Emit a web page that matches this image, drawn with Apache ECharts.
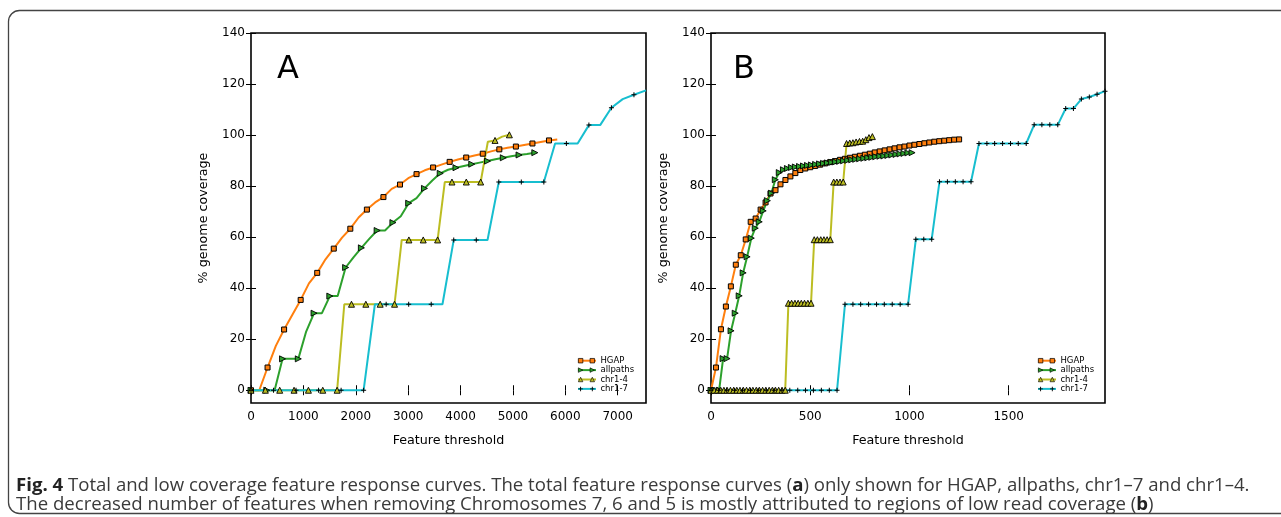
<!DOCTYPE html>
<html><head><meta charset="utf-8">
<script src="https://cdn.jsdelivr.net/npm/echarts@6/dist/echarts.min.js"></script>
<style>html,body{margin:0;padding:0;background:#fff;}#c{width:1281px;height:517px;}</style>
</head><body><div id="c"></div>
<script>
// ---------- data ----------
const seriesNames = ['HGAP', 'allpaths', 'chr1-4', 'chr1-7'];
const yTicks = [0, 20, 40, 60, 80, 100, 120, 140];
const xTicksA = [0, 1000, 2000, 3000, 4000, 5000, 6000, 7000];
const xTicksB = [0, 500, 1000, 1500];

// Panel A
const hgapA_x = [0,158,316,474,632,790,948,1106,1264,1422,1580,1738,1896,2054,2212,2370,2528,2686,2844,3002,3160,3318,3476,3634,3792,3950,4108,4266,4424,4582,4740,4898,5056,5214,5372,5530,5688,5846];
const hgapA_y = [0,0,8.9,17.4,23.8,29.6,35.4,41.9,46.0,51.3,55.5,59.8,63.3,67.7,70.8,73.6,75.7,78.9,80.6,83.1,84.7,86.2,87.3,88.4,89.5,90.4,91.2,92.0,92.7,93.6,94.4,95.0,95.5,96.1,96.7,97.3,97.9,98.3];
const allpathsA_x = [0,150,301,451,602,752,903,1053,1204,1354,1505,1655,1806,1956,2107,2257,2408,2558,2709,2859,3010,3160,3311,3461,3612,3762,3913,4063,4214,4364,4515,4665,4816,4966,5117,5267,5418];
const allpathsA_y = [0,0,0,0,12.3,12.3,12.3,23.0,30.2,30.2,36.9,36.9,48.1,52.1,55.8,59.3,62.6,62.6,65.7,68.2,73.3,75.3,79.1,82.2,85.0,86.4,87.2,87.9,88.6,89.2,89.8,90.5,91.1,91.7,92.2,92.6,93.1];
const chr14A_x = [0,137,274,411,548,685,822,959,1096,1233,1370,1507,1644,1781,1918,2055,2192,2329,2466,2603,2740,2877,3014,3151,3288,3425,3562,3699,3836,3973,4110,4247,4384,4521,4658,4795,4932];
const chr14A_y = [0,0,0,0,0,0,0,0,0,0,0,0,0,33.7,33.7,33.7,33.7,33.7,33.7,33.7,33.7,58.9,58.9,58.9,58.9,58.9,58.9,81.6,81.6,81.6,81.6,81.6,81.6,97.4,97.9,99.4,100.1];
const chr17A_x = [0,215,430,645,860,1075,1290,1505,1720,1935,2150,2365,2580,2795,3010,3225,3440,3655,3870,4085,4300,4515,4730,4945,5160,5375,5590,5805,6020,6235,6450,6665,6880,7095,7310,7540];
const chr17A_y = [0,0,0,0,0,0,0,0,0,0,0,33.7,33.7,33.7,33.7,33.7,33.7,33.7,58.9,58.9,58.9,58.9,81.6,81.6,81.6,81.6,81.6,96.7,96.7,96.7,103.9,103.9,110.7,114.1,115.8,117.5];

// Panel B
const hgapB_x = [0,25,50,75,100,125,150,175,200,225,250,275,300,325,350,375,400,425,450,475,500,525,550,575,600,625,650,675,700,725,750,775,800,825,850,875,900,925,950,975,1000,1025,1050,1075,1100,1125,1150,1175,1200,1225,1250];
const hgapB_y = [0,8.9,23.9,32.8,40.7,49.2,52.9,59.1,66.0,67.3,70.8,73.6,77.1,78.4,80.7,82.4,83.8,85.1,86.3,86.9,87.4,87.9,88.4,88.9,89.4,89.8,90.3,90.7,91.1,91.5,91.9,92.3,92.7,93.2,93.6,94.0,94.4,94.8,95.2,95.5,95.9,96.2,96.5,96.8,97.1,97.4,97.6,97.8,98.0,98.2,98.3];
const allpathsB_x = [0,20,41,61,81,101,122,142,162,182,203,223,243,263,284,304,324,344,365,385,405,425,446,466,486,506,527,547,567,587,608,628,648,668,689,709,729,749,770,790,810,830,851,871,891,911,932,952,972,992,1013];
const allpathsB_y = [0,0,0,12.4,12.4,23.3,30.2,37.0,46.0,52.3,59.6,63.5,66.0,70.3,74.3,77.2,82.5,85.3,86.4,86.9,87.3,87.5,87.7,87.9,88.1,88.3,88.5,88.7,88.9,89.1,89.3,89.5,89.7,89.9,90.1,90.3,90.5,90.7,90.9,91.1,91.3,91.5,91.7,91.8,92.0,92.2,92.4,92.6,92.8,93.0,93.1];
const chr14B_x = [0,16,33,49,65,81,98,114,130,146,163,179,195,211,228,244,260,276,293,309,325,341,358,374,390,406,423,439,455,471,488,504,520,536,553,569,585,601,618,634,650,666,683,699,715,731,748,764,780,796,813];
const chr14B_y = [0,0,0,0,0,0,0,0,0,0,0,0,0,0,0,0,0,0,0,0,0,0,0,0,34.1,34.1,34.1,34.1,34.1,34.1,34.1,34.1,59.0,59.0,59.0,59.0,59.0,59.0,81.6,81.6,81.6,81.6,96.7,96.9,97.0,97.3,97.5,97.6,98.2,99.0,99.4];
const chr17B_x = [0,40,79,119,159,199,238,278,318,357,397,437,476,516,556,596,635,675,715,754,794,834,873,913,953,993,1032,1072,1112,1151,1191,1231,1270,1310,1350,1390,1429,1469,1509,1548,1588,1628,1667,1707,1747,1787,1826,1866,1906,1945,1985];
const chr17B_y = [0,0,0,0,0,0,0,0,0,0,0,0,0,0,0,0,0,33.7,33.7,33.7,33.7,33.7,33.7,33.7,33.7,33.7,59.2,59.2,59.2,81.7,81.7,81.7,81.7,81.7,96.7,96.7,96.7,96.7,96.7,96.7,96.7,104.0,104.0,104.0,104.0,110.4,110.4,114.1,114.9,116.0,117.2];

const captionLine1 = ['Fig. 4', ' Total and low coverage feature response curves. The total feature response curves (', 'a', ') only shown for HGAP, allpaths, chr1\u20137 and chr1\u20134.'];
const captionLine2 = ['The decreased number of features when removing Chromosomes 7, 6 and 5 is mostly attributed to regions of low read coverage (', 'b', ')'];

// ---------- styles ----------
const colors = {'HGAP':'#ff7f0e','allpaths':'#2ca02c','chr1-4':'#bcbd22','chr1-7':'#17becf'};
const PLUS = 'path://M4,0h2v4h4v2h-4v4h-2v-4h-4v-2h4z';
const markers = {
  'HGAP': {symbol:'rect', size:5, rotate:0, fill:'#ff7f0e', bw:1},
  'allpaths': {symbol:'triangle', size:6, rotate:-90, fill:'#2ca02c', bw:0.9},
  'chr1-4': {symbol:'triangle', size:6, rotate:0, fill:'#bcbd22', bw:0.9},
  'chr1-7': {symbol:PLUS, size:5, rotate:0, fill:'#000', bw:0}
};
const legendIcons = {
  'HGAP': 'path://M0,0h5v5h-5z M13,0h5v5h-5z',
  'allpaths': 'path://M0,0L5,2.5L0,5z M13,0L18,2.5L13,5z',
  'chr1-4': 'path://M0,5L2.5,0L5,5z M13,5L15.5,0L18,5z',
  'chr1-7': 'path://M2,0h1v2h2v1h-2v2h-1v-2h-2v-1h2z M15,0h1v2h2v1h-2v2h-1v-2h-2v-1h2z'
};
const FONT = 'DejaVu Sans';
const CAP_FONT = 'Open Sans';
const CAP_SIZE = 18.6;

function pairs(xs, ys) { return xs.map((x, i) => [x, ys[i]]); }

function mkSeries(name, xs, ys, xi, yi, every) {
  const m = markers[name];
  return {
    type: 'line', name: name, xAxisIndex: xi, yAxisIndex: yi,
    data: pairs(xs, ys),
    showAllSymbol: true,
    symbol: function (v, p) { return p.dataIndex % every === 0 ? m.symbol : 'none'; },
    symbolSize: m.size, symbolRotate: m.rotate,
    lineStyle: {color: colors[name], width: 2},
    itemStyle: {color: m.fill, borderColor: '#000', borderWidth: m.bw},
    emphasis: {disabled: true},
    animation: false
  };
}

const plain = v => String(v);

function xAxis(grid, max, ticks, pos, labels, name) {
  return {
    type: 'value', gridIndex: grid, min: 0, max: max, position: pos,
    axisLine: {show: false}, splitLine: {show: false},
    axisTick: {show: true, inside: true, length: 5, lineStyle: {color: '#000', width: 1}, customValues: ticks},
    axisLabel: {show: labels, customValues: ticks, formatter: plain, color: '#000', fontFamily: FONT, fontSize: 12, margin: 8},
    name: labels ? name : '', nameLocation: 'middle', nameGap: 31,
    nameTextStyle: {color: '#000', fontFamily: FONT, fontSize: 12.7}
  };
}
function yAxis(grid, pos, labels, name) {
  return {
    type: 'value', gridIndex: grid, min: -5, max: 140, position: pos,
    axisLine: {show: false}, splitLine: {show: false},
    axisTick: {show: true, inside: true, length: 5, lineStyle: {color: '#000', width: 1}, customValues: yTicks},
    axisLabel: {show: labels, customValues: yTicks, formatter: plain, color: '#000', fontFamily: FONT, fontSize: 12, margin: 6},
    name: labels ? name : '', nameLocation: 'middle', nameGap: 41,
    nameTextStyle: {color: '#000', fontFamily: FONT, fontSize: 12.7}
  };
}

function legends(left, top) {
  const ts = {fontFamily: FONT, fontSize: 8.5, lineHeight: 9.4, color: '#000'};
  const common = {orient: 'vertical', left: left, top: top, padding: 0, itemGap: 0, itemWidth: 18, selectedMode: false};
  return [
    Object.assign({}, common, {
      icon: 'rect', itemHeight: 2,
      textStyle: Object.assign({}, ts, {color: 'rgba(0,0,0,0)'}),
      data: seriesNames.map(n => ({name: n, itemStyle: {color: colors[n], borderWidth: 0}}))
    }),
    Object.assign({}, common, {
      itemHeight: 4.5, textStyle: ts,
      data: seriesNames.map(n => ({name: n, icon: legendIcons[n],
        itemStyle: {color: markers[n].fill, borderColor: '#000', borderWidth: markers[n].bw * 0.7}}))
    })
  ];
}

const every = 2;
const option = {
  animation: false,
  backgroundColor: '#fff',
  grid: [
    {left: 251, top: 33, width: 395, height: 370, show: true, borderColor: '#000', borderWidth: 1.6, backgroundColor: 'transparent'},
    {left: 711, top: 33, width: 394, height: 370, show: true, borderColor: '#000', borderWidth: 1.6, backgroundColor: 'transparent'}
  ],
  xAxis: [
    xAxis(0, 7540, xTicksA, 'bottom', true, 'Feature threshold'),
    xAxis(0, 7540, xTicksA, 'top', false, ''),
    xAxis(1, 1985, xTicksB, 'bottom', true, 'Feature threshold'),
    xAxis(1, 1985, xTicksB, 'top', false, '')
  ],
  yAxis: [
    yAxis(0, 'left', true, '% genome coverage'),
    yAxis(0, 'right', false, ''),
    yAxis(1, 'left', true, '% genome coverage'),
    yAxis(1, 'right', false, '')
  ],
  legend: legends(578, 356).concat(legends(1038, 356)),
  series: [
    mkSeries('HGAP', hgapA_x, hgapA_y, 0, 0, every),
    mkSeries('allpaths', allpathsA_x, allpathsA_y, 0, 0, every),
    mkSeries('chr1-4', chr14A_x, chr14A_y, 0, 0, every),
    mkSeries('chr1-7', chr17A_x, chr17A_y, 0, 0, every),
    mkSeries('HGAP', hgapB_x, hgapB_y, 2, 2, 1),
    mkSeries('allpaths', allpathsB_x, allpathsB_y, 2, 2, 1),
    mkSeries('chr1-4', chr14B_x, chr14B_y, 2, 2, 1),
    mkSeries('chr1-7', chr17B_x, chr17B_y, 2, 2, 1)
  ],
  graphic: [
    {type: 'rect', shape: {x: 8.5, y: 10.5, width: 1300, height: 503, r: 11}, style: {fill: 'none', stroke: '#444', lineWidth: 1.3}, silent: true, z: 0},
    {type: 'text', x: 277, y: 70, style: {text: 'A', font: '32px "DejaVu Sans"', fill: '#000', verticalAlign: 'middle'}},
    {type: 'text', x: 733, y: 70, style: {text: 'B', font: '32px "DejaVu Sans"', fill: '#000', verticalAlign: 'middle'}},
    {type: 'text', x: 16, y: 486, style: {
      text: '{b|' + captionLine1[0] + '}' + captionLine1[1] + '{b|' + captionLine1[2] + '}' + captionLine1[3],
      fontFamily: CAP_FONT, fontSize: CAP_SIZE, fill: '#3a3a3a', verticalAlign: 'middle',
      rich: {b: {fontFamily: CAP_FONT, fontSize: CAP_SIZE, fontWeight: 'bold', fill: '#222'}}}},
    {type: 'text', x: 16, y: 505, style: {
      text: captionLine2[0] + '{b|' + captionLine2[1] + '}' + captionLine2[2],
      fontFamily: CAP_FONT, fontSize: CAP_SIZE, fill: '#3a3a3a', verticalAlign: 'middle',
      rich: {b: {fontFamily: CAP_FONT, fontSize: CAP_SIZE, fontWeight: 'bold', fill: '#222'}}}}
  ]
};
const chart = echarts.init(document.getElementById('c'), null, {renderer: 'canvas'});
chart.setOption(option);
</script></body></html>
